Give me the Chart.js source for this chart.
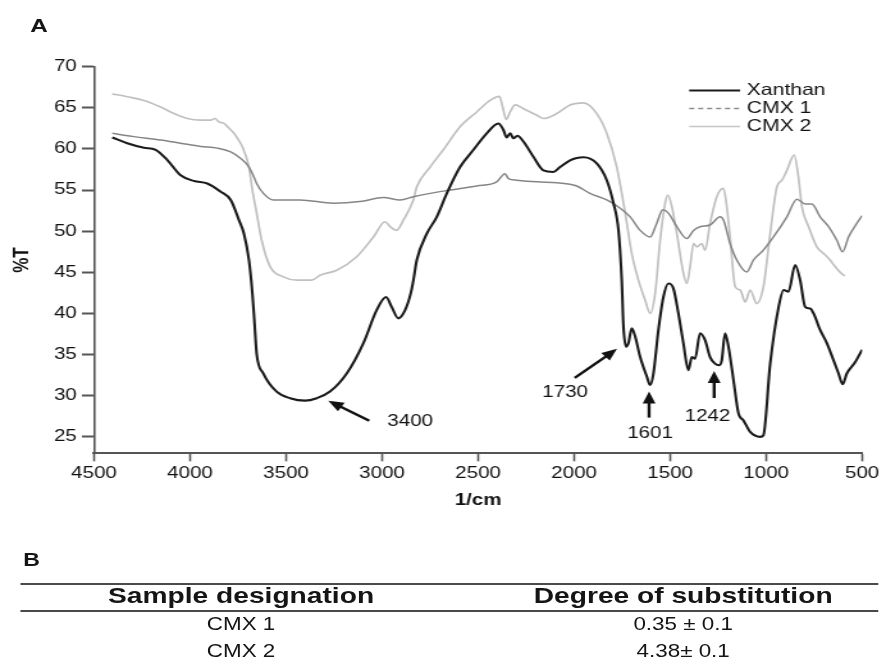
<!DOCTYPE html>
<html>
<head>
<meta charset="utf-8">
<script src="https://cdn.jsdelivr.net/npm/chart.js@4.4.1/dist/chart.umd.min.js"></script>
<style>
  html, body { margin: 0; padding: 0; background: #fff; overflow: hidden; }
  /* the whole figure is laid out 692px wide and widened to the 886px page */
  #page { position: absolute; left: 0; top: 0; width: 692px; height: 661px;
          transform: scaleX(1.2803); transform-origin: 0 0;
          font-family: "Liberation Sans", Arial, sans-serif; color: #151515; }
  #plot { position: absolute; left: 0; top: 0; width: 692px; height: 530px; }
  .lbl { position: absolute; white-space: nowrap; transform: translate(-50%, -50%); line-height: 1; }
  .rule { position: absolute; height: 2px; background: #4a4a4a; }
</style>
</head>
<body>
<div id="page">
  <div id="plot"><canvas id="c" width="692" height="530"></canvas></div>
  <div class="lbl" style="left:30.5px;top:25px;font-weight:bold;font-size:19px">A</div>
  <div class="lbl" style="left:24.6px;top:560px;font-weight:bold;font-size:18px">B</div>
  <div class="rule" style="left:16px;width:670px;top:583px"></div>
  <div class="rule" style="left:16px;width:670px;top:610px"></div>
  <div id="table"></div>
</div>

<script>
// ---- FTIR spectra: wavenumber (1/cm) and transmittance (%T) ----
const xanthanWn = [4405,4327,4240,4179,4118,4049,3979,3910,3840,3788,3745,3719,3693,3675,3665,3653,3618,3549,3479,3401,3340,3271,3184,3097,3028,2979,2950,2915,2880,2850,2837,2819,2767,2715,2663,2594,2524,2455,2394,2368,2351,2333,2316,2295,2264,2212,2160,2108,2073,2021,1986,1951,1882,1830,1795,1769,1752,1743,1729,1717,1700,1682,1656,1621,1604,1587,1561,1535,1509,1483,1457,1431,1405,1387,1370,1344,1318,1292,1266,1245,1231,1214,1196,1170,1144,1118,1083,1031,1014,979,935,909,884,849,823,797,771,753,719,684,649,623,602,580,536,500];
const xanthanT  = [61.4,60.7,60.15,59.9,58.65,56.8,56.1,55.8,54.8,53.8,51.35,49.7,46.5,42.4,39.2,35.1,32.7,30.5,29.7,29.4,29.7,30.5,32.7,36.4,40.4,42.0,40.8,39.4,40.4,42.5,44.0,46.5,49.7,51.75,54.6,57.8,59.9,61.9,63.1,62.3,61.4,61.9,61.3,61.6,60.9,59.05,57.4,57.2,57.8,58.6,58.9,59.0,58.25,56.2,53.4,50.1,44.05,38.4,35.95,36.4,38.2,37.2,34.7,32.3,31.3,32.7,38.0,42.0,43.65,43.05,40.0,36.4,33.1,34.7,34.5,37.6,36.75,34.7,33.9,33.7,34.3,37.6,35.95,31.9,27.85,27.0,25.6,25.0,25.2,33.9,40.8,42.85,42.65,45.9,44.05,40.8,40.6,40.0,38.0,36.4,34.3,32.7,31.4,32.7,34.1,35.6];

const cmx1Wn = [4405,4292,4153,4049,3944,3858,3788,3736,3693,3667,3653,3618,3566,3427,3253,3115,2993,2906,2837,2750,2646,2507,2403,2360,2342,2299,2194,2090,2021,1986,1917,1830,1760,1708,1656,1604,1570,1538,1509,1465,1413,1378,1344,1292,1240,1222,1188,1153,1101,1066,1014,962,892,840,797,762,719,675,632,602,571,528,500];
const cmx1T  = [61.9,61.5,61.1,60.7,60.3,60.1,59.65,58.85,57.8,56.6,55.8,54.6,53.8,53.8,53.4,53.6,54.1,53.8,54.2,54.6,55.0,55.5,56.0,57.0,56.4,56.2,56.0,55.9,55.7,55.5,54.6,53.8,52.8,51.75,50.1,49.3,50.95,52.6,52.2,50.55,49.1,50.1,50.55,50.75,51.75,51.35,48.5,46.5,45.05,46.5,47.7,49.3,51.75,53.9,53.3,53.3,51.75,50.55,48.9,47.5,49.3,50.95,51.9];

const cmx2Wn = [4405,4327,4240,4153,4083,4014,3944,3892,3870,3850,3823,3800,3771,3750,3728,3693,3675,3653,3627,3583,3514,3444,3366,3323,3236,3132,3045,2984,2958,2924,2889,2837,2819,2750,2681,2594,2507,2438,2389,2372,2354,2333,2307,2264,2194,2160,2090,2021,1986,1951,1882,1830,1778,1734,1700,1665,1630,1604,1578,1552,1526,1512,1491,1465,1431,1413,1396,1378,1361,1335,1318,1292,1257,1222,1205,1188,1161,1135,1109,1083,1049,1014,979,944,918,892,854,832,814,779,736,701,667,641,597,589];
const cmx2T  = [66.7,66.35,65.9,65.1,64.3,63.7,63.5,63.5,63.7,63.3,63.1,62.6,61.9,61.2,60.3,57.8,55.0,52.2,48.9,45.7,44.45,44.05,44.05,44.65,45.25,46.9,49.3,51.15,50.55,50.1,51.35,53.8,55.4,57.8,59.9,62.7,64.5,65.9,66.4,65.1,63.6,64.5,65.35,64.9,64.1,63.7,64.3,65.35,65.55,65.6,64.3,61.9,57.8,52.2,47.3,44.05,41.6,40.0,42.45,48.9,53.4,54.4,53.0,49.7,44.9,43.65,45.7,48.5,48.1,48.5,47.7,50.95,54.2,55.2,53.0,49.3,43.25,42.85,41.4,42.85,41.2,43.25,49.7,55.4,56.2,57.4,59.25,56.6,53.0,50.55,48.1,47.3,46.5,45.7,44.65,44.6];

const seriesNames = ['Xanthan', 'CMX 1', 'CMX 2'];
const yTickValues = [25, 30, 35, 40, 45, 50, 55, 60, 65, 70];

// marked absorption bands (1/cm)
const bands = [3400, 1730, 1601, 1242];

// degree of substitution table
const tableHeaders = ['Sample designation', 'Degree of substitution'];
const sampleNames = ['CMX 1', 'CMX 2'];
const dsValues = ['0.35 \u00b1 0.1', '4.38\u00b1 0.1'];

// ---- table below the spectrum ----
(function buildTable() {
  const host = document.getElementById('table');
  const colX = [188.3, 533.6];
  const add = (text, x, y, css) => {
    const d = document.createElement('div');
    d.className = 'lbl';
    d.style.cssText = `left:${x}px;top:${y}px;` + css;
    d.textContent = text;
    host.appendChild(d);
  };
  tableHeaders.forEach((h, i) => add(h, colX[i], 595.5, 'font-weight:bold;font-size:22px;'));
  const rowY = [624.5, 651.7];
  sampleNames.forEach((s, r) => {
    add(s, colX[0], rowY[r], 'font-size:17.5px;');
    add(dsValues[r], colX[1], rowY[r], 'font-size:17.5px;');
  });
})();

// ---- plot ----
const FONT = '"Liberation Sans", Arial, sans-serif';
const INK = '#111';
const pts = (wn, t) => wn.map((w, i) => ({ x: w, y: t[i] }));

// arrow placement for each band label (pixel offsets from the band position)
const arrowLayout = [
  { tipDx: 18,   tipT: 29.4, tail: [32, 20],  text: [64, 21] },
  { tipDx: -7,   tipT: 35.7, tail: [-33, 29], text: [-40.5, 43.5] },
  { tipDx: -1.3, tipT: 30.5, tail: [0, 26],   text: [0.8, 42] },
  { tipDx: -4.3, tipT: 33.0, tail: [0, 27],   text: [-5.2, 46] }
];

const bandArrows = {
  id: 'bandArrows',
  afterDatasetsDraw(chart) {
    const { ctx, scales: { x, y } } = chart;
    ctx.save();
    ctx.lineWidth = 2.4;
    bands.forEach((wn, i) => {
      const a = arrowLayout[i];
      const tx = x.getPixelForValue(wn) + a.tipDx;
      const ty = y.getPixelForValue(a.tipT);
      const sx = tx + a.tail[0], sy = ty + a.tail[1];
      const len = Math.hypot(tx - sx, ty - sy);
      const ux = (tx - sx) / len, uy = (ty - sy) / len;
      const head = 12, half = 5;
      const bx = tx - ux * head, by = ty - uy * head;
      ctx.strokeStyle = INK;
      ctx.fillStyle = INK;
      ctx.beginPath();
      ctx.moveTo(sx, sy);
      ctx.lineTo(bx + ux, by + uy);
      ctx.stroke();
      ctx.beginPath();
      ctx.moveTo(tx, ty);
      ctx.lineTo(bx - uy * half, by + ux * half);
      ctx.lineTo(bx + uy * half, by - ux * half);
      ctx.closePath();
      ctx.fill();
      ctx.font = `16px ${FONT}`;
      ctx.textAlign = 'center';
      ctx.textBaseline = 'middle';
      ctx.fillText(String(wn), tx + a.text[0], ty + a.text[1]);
    });
    ctx.restore();
  }
};

const lineLegend = {
  id: 'lineLegend',
  afterDatasetsDraw(chart, args, opts) {
    const ctx = chart.ctx;
    ctx.save();
    chart.data.datasets.forEach((ds, i) => {
      const yy = opts.top + i * opts.rowGap;
      ctx.strokeStyle = opts.colors[i];
      ctx.lineWidth = ds.borderWidth;
      ctx.setLineDash(opts.dash[i]);
      ctx.beginPath();
      ctx.moveTo(opts.x, yy);
      ctx.lineTo(opts.x + opts.lineLen, yy);
      ctx.stroke();
      ctx.setLineDash([]);
      ctx.font = `16.5px ${FONT}`;
      ctx.fillStyle = INK;
      ctx.textAlign = 'left';
      ctx.textBaseline = 'middle';
      ctx.fillText(ds.label, opts.x + opts.lineLen + opts.gap, yy);
    });
    ctx.restore();
  }
};

new Chart(document.getElementById('c'), {
  type: 'line',
  data: {
    datasets: [
      { label: seriesNames[0], data: pts(xanthanWn, xanthanT), borderColor: '#1b1b1b', borderWidth: 2.1 },
      { label: seriesNames[1], data: pts(cmx1Wn, cmx1T), borderColor: '#858585', borderWidth: 1.5 },
      { label: seriesNames[2], data: pts(cmx2Wn, cmx2T), borderColor: '#c0c0c0', borderWidth: 1.7 }
    ]
  },
  plugins: [bandArrows, lineLegend],
  options: {
    responsive: false,
    animation: false,
    devicePixelRatio: 1,
    layout: { padding: { top: 66.7, right: 18.6, left: 0, bottom: 0 } },
    elements: {
      point: { radius: 0 },
      line: { cubicInterpolationMode: 'monotone', borderJoinStyle: 'round' }
    },
    plugins: {
      legend: { display: false },
      tooltip: { enabled: false },
      lineLegend: {
        x: 538.3, lineLen: 39.8, gap: 5.2, top: 90.5, rowGap: 18,
        colors: ['#1b1b1b', '#8c8c8c', '#c6c6c6'],
        dash: [[], [4, 3], []]
      }
    },
    scales: {
      x: {
        type: 'linear',
        reverse: true,
        min: 500,
        max: 4500,
        afterFit(s) { s.height = 530 - 453.3; },
        ticks: {
          stepSize: 500,
          autoSkip: false,
          maxRotation: 0,
          padding: 3,
          color: INK,
          font: { family: FONT, size: 16 },
          callback: v => String(v)
        },
        grid: { display: true, drawOnChartArea: false, drawTicks: true, tickLength: 8, tickColor: '#555', tickWidth: 1.6 },
        border: { display: true, color: '#555', width: 2 },
        title: { display: true, text: '1/cm', color: INK, font: { family: FONT, size: 16, weight: 'bold' }, padding: { top: 0, bottom: 20 } }
      },
      y: {
        type: 'linear',
        min: 23,
        max: 70,
        afterFit(s) { s.width = 73.4; },
        afterBuildTicks(s) { s.ticks = yTickValues.map(v => ({ value: v })); },
        ticks: { padding: 4, color: INK, font: { family: FONT, size: 16 } },
        grid: { display: true, drawOnChartArea: false, drawTicks: true, tickLength: 9.4, tickColor: '#555', tickWidth: 2 },
        border: { display: true, color: '#555', width: 1.6 },
        title: { display: true, text: '%T', color: INK, font: { family: FONT, size: 17, weight: 'bold' }, padding: { top: 7.5, bottom: 0 } }
      }
    }
  }
});
</script>
</body>
</html>
